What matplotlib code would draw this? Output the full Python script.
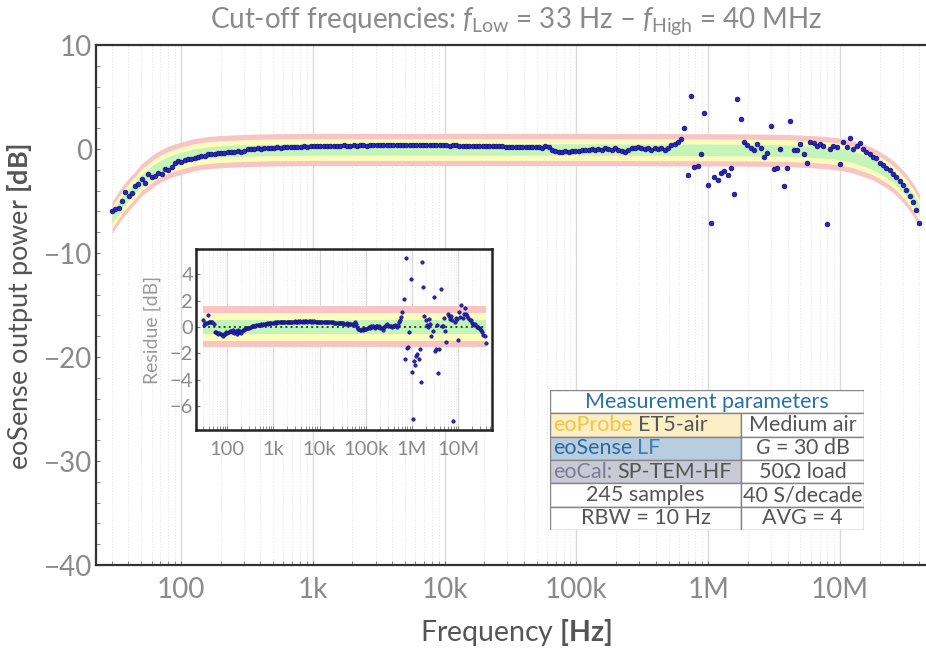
import numpy as np
import matplotlib
matplotlib.use('Agg')
import matplotlib.pyplot as plt
from matplotlib.patches import Rectangle
from matplotlib.ticker import LogLocator, NullFormatter, MultipleLocator

plt.rcParams['font.family'] = ['Lato', 'DejaVu Sans']
plt.rcParams['mathtext.fontset'] = 'custom'
plt.rcParams['mathtext.rm'] = 'Lato'
plt.rcParams['mathtext.it'] = 'Lato:italic'
plt.rcParams['mathtext.bf'] = 'Lato:bold'

# sampling stated on the chart: 245 samples, 30 Hz .. 40 MHz, ~40 S/decade
f_start, f_stop, n_samples = 30.0, 40e6, 245
freq = np.logspace(np.log10(f_start), np.log10(f_stop), n_samples)

# measured eoSense output power [dB]
power_db = [
    -6.0, -5.8, -5.7, -5.0, -4.1, -4.5, -4.2, -3.6, -3.4, -2.9,
    -3.3, -2.4, -2.7, -2.6, -2.3, -2.4, -1.9, -2.0, -1.7, -1.35,
    -1.2, -1.25, -1.1, -1.0, -0.95, -0.87, -0.8, -0.65, -0.7, -0.5,
    -0.45, -0.5, -0.42, -0.38, -0.4, -0.3, -0.3, -0.26, -0.22, -0.25,
    -0.2, -0.03, 0.0, 0.0, 0.05, 0.03, 0.07, 0.1, 0.08, 0.13,
    0.15, 0.13, 0.17, 0.2, 0.18, 0.22, 0.2, 0.23, 0.25, 0.23,
    0.27, 0.28, 0.3, 0.27, 0.3, 0.32, 0.3, 0.33, 0.31, 0.3,
    0.34, 0.32, 0.33, 0.35, 0.32, 0.34, 0.36, 0.33, 0.35, 0.37,
    0.34, 0.36, 0.38, 0.35, 0.37, 0.36, 0.38, 0.36, 0.37, 0.39,
    0.36, 0.38, 0.37, 0.35, 0.38, 0.36, 0.37, 0.35, 0.36, 0.34,
    0.36, 0.35, 0.33, 0.35, 0.34, 0.32, 0.33, 0.31, 0.32, 0.3,
    0.31, 0.29, 0.3, 0.28, 0.27, 0.28, 0.26, 0.25, 0.26, 0.24,
    0.22, 0.23, 0.21, 0.2, 0.22, 0.19, 0.17, 0.18, 0.15, 0.16,
    0.12, 0.3, 0.15, -0.05, -0.2, -0.25, -0.27, -0.22, -0.25, -0.2,
    -0.17, -0.2, -0.1, -0.05, -0.1, 0.0, -0.05, 0.0, -0.1, 0.05,
    0.0, -0.05, 0.05, -0.1, -0.15, -0.25, -0.05, 0.05, 0.1, 0.2,
    0.05, 0.0, 0.05, -0.05, 0.05, 0.0, 0.1, -0.05, 0.1, 0.35,
    0.5, 0.7, 1.0, 2.0, -2.5, 5.1, -1.7, -1.6, -0.5, 3.5,
    -3.5, -7.1, -2.7, -3.0, -2.3, -2.15, -2.5, -1.8, -4.3, 4.8,
    2.9, 0.7, 0.4, 0.05, -0.1, 0.5, 0.1, -0.8, -0.4, 2.2,
    -1.9, -1.8, 0.0, -3.6, -1.8, 2.7, -0.1, -0.1, 0.5, -0.5,
    -1.35, 0.7, 0.55, 0.3, 0.5, 0.25, -7.2, 0.0, 0.25, 0.2,
    -1.45, 0.65, 0.2, 1.05, 0.0, 0.25, 0.6, 0.0, -0.25, -0.5,
    -0.8, -0.9, -1.3, -1.55, -1.85, -2.0, -2.4, -2.7, -3.05, -3.5,
    -3.9, -4.5, -5.1, -5.9, -7.1,
]

# residue to the model [dB] (inset)
residue_db = [
    0.5, 0.15, 0.3, 0.3, 0.9, 0.35, 0.4, 0.35, 0.4, 0.2,
    -0.35, -0.4, -0.45, -0.5, -0.45, -0.55, -0.6, -0.7, -0.55, -0.5,
    -0.4, -0.45, -0.35, -0.3, -0.3, -0.4, -0.25, -0.45, -0.3, -0.5,
    -0.25, -0.35, -0.3, -0.45, -0.2, -0.2, -0.15, -0.1, -0.1, -0.05,
    -0.05, 0.02, 0.05, 0.05, 0.1, 0.08, 0.12, 0.15, 0.13, 0.18,
    0.2, 0.18, 0.22, 0.25, 0.23, 0.27, 0.25, 0.28, 0.3, 0.28,
    0.32, 0.33, 0.35, 0.32, 0.35, 0.37, 0.35, 0.38, 0.36, 0.35,
    0.39, 0.37, 0.38, 0.4, 0.37, 0.39, 0.41, 0.38, 0.4, 0.42,
    0.39, 0.41, 0.43, 0.4, 0.42, 0.41, 0.43, 0.41, 0.42, 0.44,
    0.41, 0.43, 0.42, 0.4, 0.43, 0.41, 0.42, 0.4, 0.41, 0.39,
    0.41, 0.4, 0.38, 0.4, 0.39, 0.37, 0.38, 0.36, 0.37, 0.35,
    0.36, 0.34, 0.35, 0.33, 0.32, 0.33, 0.31, 0.3, 0.31, 0.29,
    0.27, 0.28, 0.26, 0.25, 0.27, 0.24, 0.22, 0.23, 0.2, 0.21,
    0.17, 0.35, 0.2, 0.0, -0.15, -0.2, -0.22, -0.17, -0.2, -0.15,
    -0.12, -0.15, -0.05, 0.0, -0.05, 0.05, 0.0, 0.05, -0.05, 0.1,
    0.05, 0.0, 0.1, -0.05, -0.1, -0.2, 0.0, 0.1, 0.15, 0.25,
    0.1, 0.05, 0.1, 0.0, 0.1, 0.05, 0.15, 0.0, 0.15, 0.4,
    0.55, 0.75, 1.1, 2.1, -2.4, 5.2, -1.6, -1.5, -0.4, 3.6,
    -3.4, -7.0, -2.6, -2.9, -2.2, -2.05, -2.4, -1.7, -4.2, 4.9,
    3.0, 0.8, 0.5, 0.15, 0.0, 0.6, 0.2, -0.7, -0.3, 2.3,
    -1.8, -1.65, 0.15, -3.45, -1.65, 2.85, 0.1, 0.1, 0.7, -0.3,
    -1.15, 0.95, 0.8, 0.6, 0.8, 0.55, -7.1, 0.35, 0.65, 0.6,
    -1.0, 1.15, 0.75, 1.67, 0.7, 1.0, 1.45, 0.97, 0.85, 0.7,
    0.5, 0.55, 0.3, 0.25, 0.15, 0.2, 0.0, 0.0, -0.05, -0.15,
    -0.2, -0.4, -0.6, -0.7, -1.2,
]

# model response (centre of the tolerance bands)
band_freq = [30, 33, 36, 40, 45, 50, 56, 63, 71, 80,
             90, 100, 125, 160, 200, 300, 500, 1e3, 1e5, 1e6,
             2e6, 4e6, 6e6, 8e6, 1e7, 1.25e7, 1.5e7, 1.75e7, 2e7, 2.25e7,
             2.5e7, 2.8e7, 3.2e7, 3.6e7, 4e7]
band_center = [-6.6, -5.8, -5.1, -4.4, -3.7, -3.0, -2.5, -2.0, -1.6, -1.3,
               -1.05, -0.9, -0.55, -0.35, -0.25, -0.15, -0.08, -0.05, -0.05, -0.08,
               -0.1, -0.15, -0.25, -0.35, -0.5, -0.75, -1.1, -1.4, -1.8, -2.2,
               -2.6, -3.2, -4.0, -4.9, -5.9]
band_half = [1.55, 1.05, 0.55]
band_colors = ['#f9c4c4', '#fcfcbc', '#c4f4b8']

x_ticks = [100, 1e3, 1e4, 1e5, 1e6, 1e7]
x_labels = ['100', '1k', '10k', '100k', '1M', '10M']
y_ticks = [-40, -30, -20, -10, 0, 10]
inset_yticks = [-6, -4, -2, 0, 2, 4]

table_title = 'Measurement parameters'
table_left = [('eoProbe', 'ET5-air'), ('eoSense', 'LF'), ('eoCal:', 'SP-TEM-HF'),
              '245 samples', 'RBW = 10 Hz']
table_right = ['Medium air', r'$\mathit{G}$ = 30 dB', '50Ω load', '40 S/decade', 'AVG = 4']
left_bg = ['#fcefc6', '#b9cde0', '#cacad6']
left_c1 = ['#f2c53d', '#2a6aa0', '#7c7c94']
left_c2 = ['#555555', '#3f7db3', '#555555']

W, H = 926, 651
fig = plt.figure(figsize=(W / 100, H / 100), dpi=100)

def px_box(l, t, r, b):
    return [l / W, (H - b) / H, (r - l) / W, (b - t) / H]

label_gray = '#8a8a8a'
dot_face, dot_edge = '#2626c8', '#0e0e66'

# main plot
ax = fig.add_axes(px_box(96, 45, 930, 565))
ax.set_xscale('log')
ax.set_xlim(22.7, 48.1e6)
ax.set_ylim(-40, 10)
for hw, c in zip(band_half, band_colors):
    ax.fill_between(band_freq, [v - hw for v in band_center], [v + hw for v in band_center],
                    color=c, lw=0, zorder=1)
ax.plot(freq, power_db, 'o', ms=3.4, mfc=dot_face, mec=dot_edge, mew=0.5, zorder=3)
ax.set_axisbelow(True)
ax.xaxis.set_minor_locator(LogLocator(base=10, subs=np.arange(2, 10), numticks=20))
ax.xaxis.set_minor_formatter(NullFormatter())
ax.yaxis.set_minor_locator(MultipleLocator(2))
ax.grid(which='major', axis='x', color='#dadada', lw=1)
ax.grid(which='minor', axis='x', color='#e6e6e6', lw=0.8, ls=':')
ax.set_xticks(x_ticks, x_labels)
ax.set_yticks(y_ticks)
ax.tick_params(which='both', direction='in', color='#777777', labelcolor=label_gray,
               labelsize=20, length=3)
ax.tick_params(axis='x', pad=9)
ax.tick_params(axis='y', pad=3)
for s in ['top', 'left', 'bottom', 'right']:
    ax.spines[s].set_color('#333333')
    ax.spines[s].set_linewidth(1.6)

fig.text(516 / W, (H - 21) / H,
         r'Cut-off frequencies: $\mathit{f}_{\mathrm{Low}}$ = 33 Hz – $\mathit{f}_{\mathrm{High}}$ = 40 MHz',
         ha='center', va='center', fontsize=20, color=label_gray)
fig.text(516 / W, (H - 633) / H, r'Frequency $\mathbf{[Hz]}$', ha='center', va='center',
         fontsize=20.5, color='#555555')
fig.text(20 / W, (H - 306) / H, r'eoSense output power $\mathbf{[dB]}$', ha='center', va='center',
         rotation=90, fontsize=19.5, color='#555555')

# inset: residue
axin = fig.add_axes(px_box(196, 249, 492, 430))
axin.set_xscale('log')
axin.set_xlim(21, 54.5e6)
axin.set_ylim(-7.8, 5.9)
for hw, c in zip(band_half, band_colors):
    axin.fill_between([freq[0], freq[-1]], -hw, hw, color=c, lw=0, zorder=1)
axin.plot([freq[0], freq[-1]], [0, 0], ls=':', color='#1e5a1e', lw=1.4, zorder=2)
axin.plot(freq, residue_db, 'o', ms=2.5, mfc=dot_face, mec=dot_edge, mew=0.4, zorder=3)
axin.set_axisbelow(True)
axin.xaxis.set_minor_locator(LogLocator(base=10, subs=np.arange(2, 10), numticks=20))
axin.xaxis.set_minor_formatter(NullFormatter())
axin.grid(which='major', axis='x', color='#dadada', lw=0.9)
axin.grid(which='minor', axis='x', color='#e8e8e8', lw=0.7, ls=':')
axin.set_xticks(x_ticks, x_labels)
axin.set_yticks(inset_yticks)
axin.tick_params(which='both', direction='in', color='#777777', labelcolor=label_gray,
                 labelsize=14.5, length=3)
axin.tick_params(axis='x', pad=8)
axin.tick_params(axis='y', pad=2)
for s in axin.spines.values():
    s.set_color('#222222')
    s.set_linewidth(1.8)
fig.text(152 / W, (H - 330) / H, 'Residue [dB]', ha='center', va='center', rotation=90,
         fontsize=14, color='#9a9a9a')

# parameter table (pixel coordinates)
tab = fig.add_axes(px_box(550, 390, 864, 530))
tab.set_xlim(550, 864)
tab.set_ylim(530, 390)
tab.axis('off')
row_h = (530 - 390) / 6
x_mid = 741
fs = 15.5
edge = '#858585'
tab.add_patch(Rectangle((550, 390), 314, row_h, fc='white', ec=edge, lw=1))
tab.text(707, 390 + row_h / 2, table_title, ha='center', va='center', fontsize=fs,
         color='#2a70a8')
renderer = fig.canvas.get_renderer()
for k in range(5):
    y0 = 390 + row_h * (k + 1)
    yc = y0 + row_h / 2
    bg = left_bg[k] if k < 3 else 'white'
    tab.add_patch(Rectangle((550, y0), x_mid - 550, row_h, fc=bg, ec=edge, lw=1))
    tab.add_patch(Rectangle((x_mid, y0), 864 - x_mid, row_h, fc='white', ec=edge, lw=1))
    if k < 3:
        first, second = table_left[k]
        t1 = tab.text(553, yc, first, ha='left', va='center', fontsize=fs, color=left_c1[k])
        w1 = t1.get_window_extent(renderer).width
        tab.text(553 + w1 + 5, yc, second, ha='left', va='center', fontsize=fs,
                 color=left_c2[k])
    else:
        tab.text((550 + x_mid) / 2, yc, table_left[k], ha='center', va='center',
                 fontsize=fs, color='#555555')
    tab.text((x_mid + 864) / 2, yc, table_right[k], ha='center', va='center',
             fontsize=fs, color='#555555')

fig.savefig('out.png', dpi=100)
